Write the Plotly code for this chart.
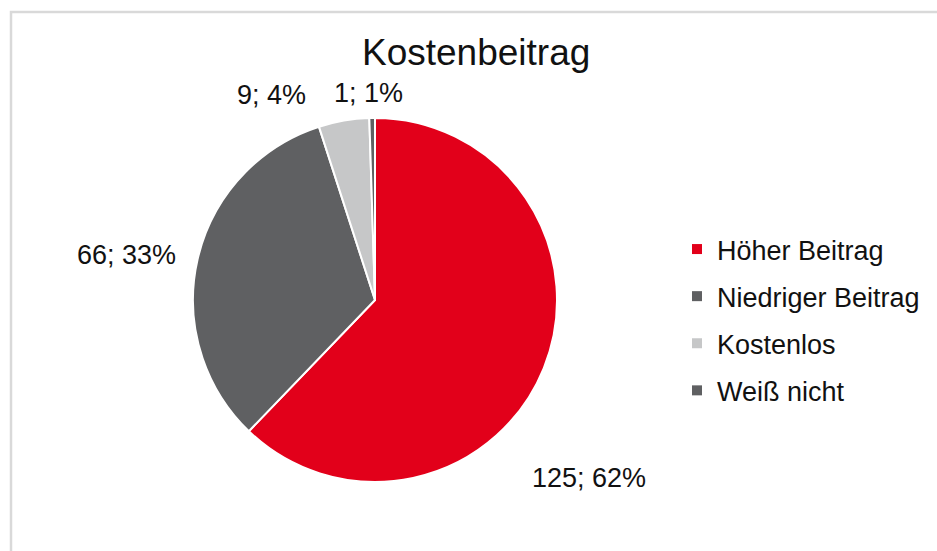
import plotly.graph_objects as go

# ---- data ----
categories = ["Höher Beitrag", "Niedriger Beitrag", "Kostenlos", "Weiß nicht"]
values = [125, 66, 9, 1]
percents = [62, 33, 4, 1]
colors = ["#E2001A", "#5F6062", "#C6C7C8", "#5F6062"]
title_text = "Kostenbeitrag"

# ---- layout constants (pixels, in screenshot coordinates) ----
W, H = 937, 551
OFF = 0  # page body margin removed via post_script
cx, cy, r = 375, 300, 182
label_px = [(589, 478), (126, 255), (271, 95), (368, 93)]  # label centres


def px(x):
    return (x - OFF) / W


def py(y):
    return 1 - (y - OFF) / H


FONT = "Liberation Sans, Arial, sans-serif"

fig = go.Figure()
fig.add_trace(go.Pie(
    labels=categories,
    values=values,
    sort=False,
    direction="clockwise",
    rotation=0,
    marker=dict(colors=colors, line=dict(color="white", width=2)),
    textinfo="none",
    hoverinfo="label+value+percent",
    showlegend=False,
    domain=dict(x=[px(cx - r), px(cx + r)], y=[py(cy + r), py(cy - r)]),
))

# legend entries (one group each so the spacing can be set)
for name, col in zip(categories, colors):
    fig.add_trace(go.Scatter(
        x=[None], y=[None], mode="markers", name=name,
        marker=dict(symbol="square", size=10, color=col),
        legendgroup=name, showlegend=True, hoverinfo="skip",
    ))

annotations = [dict(
    text=title_text, x=px(476), y=py(53), xref="paper", yref="paper",
    xanchor="center", yanchor="middle", showarrow=False,
    font=dict(family=FONT, size=37, color="#111111"),
)]
for v, p, (lx, ly) in zip(values, percents, label_px):
    annotations.append(dict(
        text=f"{v}; {p}%", x=px(lx), y=py(ly), xref="paper", yref="paper",
        xanchor="center", yanchor="middle", showarrow=False,
        font=dict(family=FONT, size=27, color="#111111"),
    ))

fig.update_layout(
    width=W, height=H,
    margin=dict(l=0, r=0, t=0, b=0),
    paper_bgcolor="white", plot_bgcolor="white",
    xaxis=dict(visible=False), yaxis=dict(visible=False),
    annotations=annotations,
    legend=dict(
        x=px(677), y=py(320), xanchor="left", yanchor="middle",
        font=dict(family=FONT, size=27, color="#111111"),
        tracegroupgap=9, itemclick=False, itemdoubleclick=False,
        bgcolor="rgba(0,0,0,0)",
    ),
    shapes=[dict(
        type="rect", xref="paper", yref="paper",
        x0=px(11), y0=-0.05, x1=1.05, y1=py(12),
        line=dict(color="#D9D9D9", width=2.5), layer="below",
    )],
)

fig.write_html(
    "out.html",
    config={"displayModeBar": False},
    post_script="document.body.style.margin='0';document.body.style.overflow='hidden';",
)
